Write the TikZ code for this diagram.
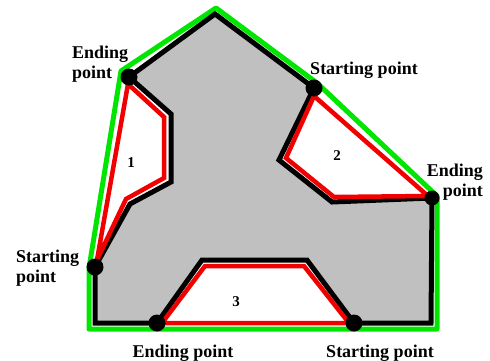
\documentclass[tikz,border=0pt]{standalone}
\usepackage{fontspec}
\setmainfont{Liberation Serif}
\definecolor{polygray}{RGB}{192,192,192}
\definecolor{hullgreen}{RGB}{0,230,0}
\definecolor{pocketred}{RGB}{240,0,0}
\tikzset{
  blackedge/.style={draw=black,line width=5pt,line join=miter},
  rededge/.style={draw=pocketred,line width=4.5pt,line join=miter},
  greenedge/.style={draw=hullgreen,line width=5pt,line join=round},
  vertexdot/.style={circle,fill=black,inner sep=0pt,minimum size=17pt},
  lbl/.style={font=\fontsize{18}{20}\selectfont\bfseries,inner sep=0pt},
  numlbl/.style={font=\fontsize{15}{17}\selectfont\bfseries,inner sep=0pt}
}
\begin{document}
\begin{tikzpicture}[x=1pt,y=-1pt]
\useasboundingbox (0,0) rectangle (490,360);
% polygon vertices
\coordinate (T) at (215,14);
\coordinate (A) at (129,77);
\coordinate (P1a) at (171,114);
\coordinate (P1b) at (171,182);
\coordinate (P1c) at (130,204);
\coordinate (B) at (95,267);
\coordinate (BL) at (95,323);
\coordinate (C) at (157,323);
\coordinate (P3a) at (202,260);
\coordinate (P3b) at (307,260);
\coordinate (D) at (354,323);
\coordinate (BR) at (431,323);
\coordinate (E) at (432,198);
\coordinate (P2a) at (332,202);
\coordinate (P2b) at (279,160);
\coordinate (F) at (314,88);
% hull vertices
\coordinate (H1) at (216,8);
\coordinate (H2) at (121,71);
\coordinate (H3) at (89,268);
\coordinate (H4) at (89,329);
\coordinate (H5) at (437,329);
\coordinate (H6) at (437,196);
\coordinate (H7) at (317,83);
% pocket red vertices
\coordinate (R1a) at (128,84);
\coordinate (R1b) at (164,117);
\coordinate (R1c) at (164,178);
\coordinate (R1d) at (126,199);
\coordinate (R1e) at (97,260);
\coordinate (R2a) at (314,96);
\coordinate (R2b) at (286,158);
\coordinate (R2c) at (334,197);
\coordinate (R2d) at (428,196);
\coordinate (R3a) at (162,323);
\coordinate (R3b) at (205,266);
\coordinate (R3c) at (304,266);
\coordinate (R3d) at (349,323);
% gray fill
\fill[polygray] (T) -- (A) -- (P1a) -- (P1b) -- (P1c) -- (B) -- (BL) -- (C) -- (P3a) -- (P3b) -- (D) -- (BR) -- (E) -- (P2a) -- (P2b) -- (F) -- cycle;
% convex hull
\draw[greenedge] (H1) -- (H2) -- (H3) -- (H4) -- (H5) -- (H6) -- (H7) -- cycle;
% polygon outline
\draw[blackedge] (T) -- (A) -- (P1a) -- (P1b) -- (P1c) -- (B) -- (BL) -- (C) -- (P3a) -- (P3b) -- (D) -- (BR) -- (E) -- (P2a) -- (P2b) -- (F) -- cycle;
% pockets
\draw[rededge] (R1a) -- (R1b) -- (R1c) -- (R1d) -- (R1e) -- cycle;
\draw[rededge] (R2a) -- (R2b) -- (R2c) -- (R2d) -- cycle;
\draw[rededge] (R3a) -- (R3b) -- (R3c) -- (R3d) -- cycle;
% dots
\node[vertexdot] (dA) at (A) {};
\node[vertexdot] (dB) at (B) {};
\node[vertexdot] (dC) at (C) {};
\node[vertexdot] (dD) at (D) {};
\node[vertexdot,minimum size=15pt] (dE) at (E) {};
\node[vertexdot] (dF) at (F) {};
% labels
\node[lbl,align=left,anchor=north west] (tA) at (72,46) {Ending\\point};
\node[lbl,anchor=base] (tF) at (364,74) {Starting point};
\node[lbl,align=right,anchor=north east] (tE) at (483,164) {Ending\\point};
\node[lbl,align=left,anchor=north west] (tB) at (16,250) {Starting\\point};
\node[lbl,anchor=base] (tC) at (183,357) {Ending point};
\node[lbl,anchor=base] (tD) at (380,357) {Starting point};
\node[numlbl] (n1) at (131,163) {1};
\node[numlbl] (n2) at (337,156) {2};
\node[numlbl] (n3) at (236,302) {3};
\end{tikzpicture}
\end{document}
